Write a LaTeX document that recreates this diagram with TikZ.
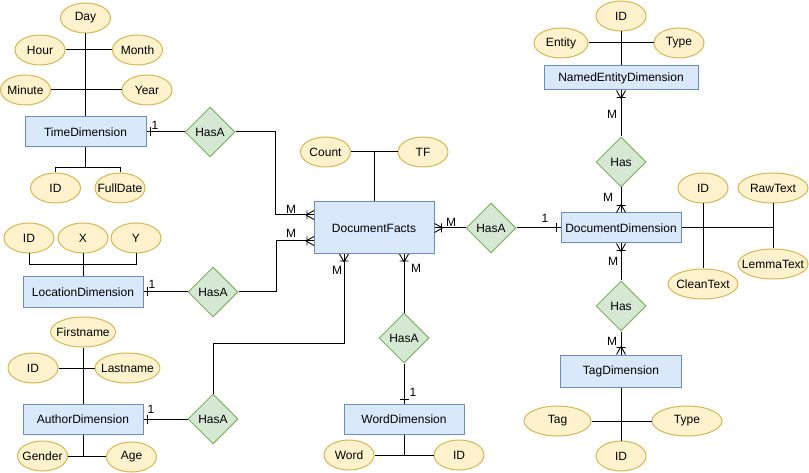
\documentclass[tikz,border=0pt]{standalone}
\usepackage{fontspec}
\setmainfont{Liberation Sans}
\usetikzlibrary{shapes.geometric}
\definecolor{entfill}{HTML}{DAE8FC}
\definecolor{entdraw}{HTML}{6C8EBF}
\definecolor{relfill}{HTML}{D5E8D4}
\definecolor{reldraw}{HTML}{82B366}
\definecolor{attfill}{HTML}{FFF2CC}
\definecolor{attdraw}{HTML}{D6B656}
\newcommand{\zb}[1]{\makebox[0pt][c]{#1}}
\begin{document}
\begin{tikzpicture}[x=1pt,y=-1pt,line width=1pt,font=\fontsize{12}{14}\selectfont,
  entity/.style={rectangle,draw=entdraw,fill=entfill,minimum width=120,minimum height=30,inner sep=0},
  attr/.style={ellipse,draw=attdraw,fill=attfill,minimum width=50,minimum height=30,inner sep=0},
  rel/.style={diamond,aspect=1,draw=reldraw,fill=relfill,minimum width=50,minimum height=50,inner sep=0},
  lab/.style={inner sep=0,font=\fontsize{12}{14}\selectfont},
  crow/.pic={\draw[line width=0.9pt] (-8,0) -- (0,-4.5) (-8,0) -- (0,4.5) (-7,-4.5) -- (-7,4.5);},
  onebar/.pic={\draw[line width=0.9pt] (-4,-4.5) -- (-4,4.5);}]
\path[use as bounding box,fill=white] (0,0) rectangle (809,473);

% ---------- entities
\node[entity,minimum width=121] (tD) at (85.5,132) {TimeDimension};
\node[entity] (lD) at (83,292) {LocationDimension};
\node[entity] (aD) at (83,419) {AuthorDimension};
\node[entity,minimum height=52] (DF) at (374,228) {DocumentFacts};
\node[entity] (wD) at (404,419) {WordDimension};
\node[entity,minimum width=154,minimum height=24] (nD) at (621,78) {NamedEntityDimension};
\node[entity] (dD) at (621,228) {DocumentDimension};
\node[entity,minimum width=121,minimum height=32] (gD) at (621,371) {TagDimension};

% ---------- relationships
\node[rel] (r1) at (210,132) {HasA};
\node[rel] (r2) at (213,292) {HasA};
\node[rel] (r3) at (213,419) {HasA};
\node[rel] (r4) at (404,338) {HasA};
\node[rel] (r5) at (491,228) {HasA};
\node[rel] (h1) at (621,162) {Has};
\node[rel] (h2) at (621,306) {Has};

% ---------- attributes
\node[attr] (tDay) at (85.5,18) {\zb{Day}};
\node[attr] (tHour) at (40,50) {\zb{Hour}};
\node[attr] (tMonth) at (137.5,50) {\zb{Month}};
\node[attr] (tMin) at (25.5,90) {\zb{Minute}};
\node[attr] (tYear) at (147,90) {\zb{Year}};
\node[attr] (tID) at (55.5,188) {\zb{ID}};
\node[attr] (tFD) at (120,188) {\zb{FullDate}};

\node[attr] (lID) at (29,238) {\zb{ID}};
\node[attr] (lX) at (83,238) {\zb{X}};
\node[attr] (lY) at (136,238) {\zb{Y}};

\node[attr,minimum width=65] (aFirst) at (83,332) {\zb{Firstname}};
\node[attr] (aID) at (33,368) {\zb{ID}};
\node[attr,minimum width=65] (aLast) at (127.5,368) {\zb{Lastname}};
\node[attr] (aGender) at (42.5,456) {\zb{Gender}};
\node[attr] (aAge) at (131.5,457) {\zb{Age}};

\node[attr] (fCount) at (325.5,152) {\zb{Count}};
\node[attr] (fTF) at (423,152) {\zb{TF}};

\node[attr] (wWord) at (349,455) {\zb{Word}};
\node[attr] (wID) at (459,455) {\zb{ID}};

\node[attr] (nID) at (621,16) {\zb{ID}};
\node[attr,minimum width=54] (nEnt) at (561,43) {\zb{Entity}};
\node[attr] (nType) at (679,43) {\zb{Type}};

\node[attr] (dID) at (703,188) {\zb{ID}};
\node[attr,minimum width=70] (dRaw) at (773,188) {\zb{RawText}};
\node[attr,minimum width=70] (dClean) at (703,284) {\zb{CleanText}};
\node[attr,minimum width=70] (dLemma) at (773,264) {\zb{LemmaText}};

\node[attr,minimum width=67] (gTag) at (557.5,421) {\zb{Tag}};
\node[attr,minimum width=70] (gType) at (687,421) {\zb{Type}};
\node[attr] (gID) at (621,456) {\zb{ID}};

% ---------- attribute links
\draw (tDay.south) -- (tD.north);
\draw (tHour.east) -- (tMonth.west);
\draw (tMin.east) -- (tYear.west);
\draw (tD.south) -- ++(0,20) -| (tID.north);
\draw (tD.south) -- ++(0,20) -| (tFD.north);

\draw (lX.south) -- (lD.north);
\draw (lD.north) -- ++(0,-12) -| (lID.south);
\draw (lD.north) -- ++(0,-12) -| (lY.south);

\draw (aFirst.south) -- (aD.north);
\draw (aID.east) -- (aLast.west);
\draw (aGender.east) -- (aGender.east -| aAge.west);
\draw (aD.south) -- (aD.south |- aGender.east);

\draw (fCount.east) -- (fTF.west);
\draw (DF.north) -- (DF.north |- fCount.east);

\draw (wWord.east) -- (wID.west);
\draw (wD.south) -- (wD.south |- wWord.east);

\draw (nID.south) -- (nD.north);
\draw (nEnt.east) -- (nType.west);

\draw (dD.east) -- (dD.east -| dRaw.south);
\draw (dRaw.south) -- (dLemma.north);
\draw (dID.south) -- (dClean.north);

\draw (gD.south) -- (gID.north);
\draw (gTag.east) -- (gType.west);

% ---------- relationship links
\coordinate (dfw1) at (314,215);
\coordinate (dfw2) at (314,241);
\coordinate (dfs1) at (344,254);
\coordinate (dfs2) at (404,254);

\draw (tD.east) -- (r1.west);
\pic[rotate=180] at (tD.east) {onebar};
\node[lab] at (155,125) {1};
\draw (r1.east) -- ++(40,0) |- (dfw1);
\pic at (dfw1) {crow};
\node[lab] at (291,209) {M};

\draw (lD.east) -- (r2.west);
\pic[rotate=180] at (lD.east) {onebar};
\node[lab] at (152,284) {1};
\draw (r2.east) -- ++(38,0) |- (dfw2);
\pic at (dfw2) {crow};
\node[lab] at (291,233) {M};

\draw (aD.east) -- (r3.west);
\pic[rotate=180] at (aD.east) {onebar};
\node[lab] at (151,409) {1};
\draw (r3.north) -- ++(0,-50) -| (dfs1);
\pic[rotate=90] at (dfs1) {crow};
\node[lab] at (337,270) {M};

\draw (r4.north) -- (dfs2);
\pic[rotate=90] at (dfs2) {crow};
\node[lab] at (416,268) {M};
\draw (r4.south) -- (wD.north);
\pic[rotate=-90] at (wD.north) {onebar};
\node[lab] at (413,392) {1};

\draw (r5.west) -- (DF.east);
\pic[rotate=180] at (DF.east) {crow};
\node[lab] at (451,222) {M};
\draw (r5.east) -- (dD.west);
\pic at (dD.west) {onebar};
\node[lab] at (545,218) {1};

\draw (h1.north) -- (nD.south);
\pic[rotate=90] at (nD.south) {crow};
\node[lab] at (612,114) {M};
\draw (h1.south) -- (dD.north);
\pic[rotate=-90] at (dD.north) {crow};
\node[lab] at (608,197) {M};

\draw (dD.south) -- (h2.north);
\pic[rotate=90] at (dD.south) {crow};
\node[lab] at (613,261) {M};
\draw (h2.south) -- (gD.north);
\pic[rotate=-90] at (gD.north) {crow};
\node[lab] at (612,341) {M};
\end{tikzpicture}
\end{document}
